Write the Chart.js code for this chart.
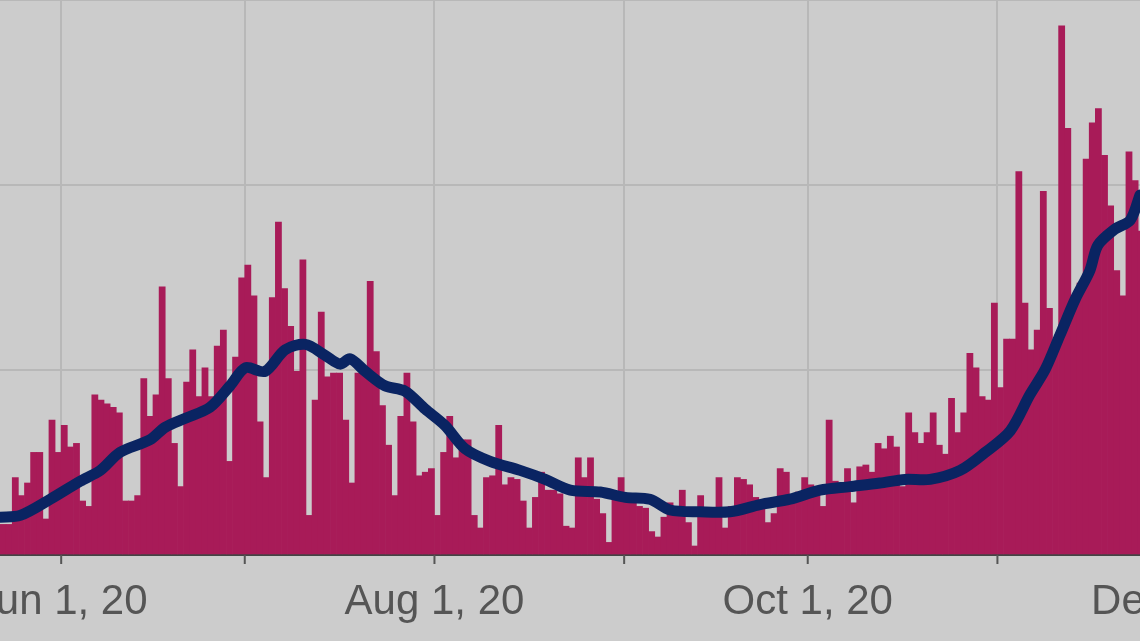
<!DOCTYPE html>
<html><head><meta charset="utf-8">
<script src="https://cdn.jsdelivr.net/npm/chart.js@4"></script>
<style>html,body{margin:0;padding:0;overflow:hidden;background:#cccccc}canvas{display:block}</style>
</head><body>
<canvas id="c" width="1140" height="641"></canvas>
<script>
// Day offsets relative to Jun 1, 2020
const firstBarDay = -9.5;
const dailyCases = [
17,17,43,33,40,57,57,20,75,57,72,60,62,30,27,89,86,84,82,79,30,30,33,98,77,89,149,98,62,38,96,114,88,104,88,116,125,52,110,154,161,144,74,43,143,185,148,
127,102,164,22,86,135,99,101,101,75,40,101,101,152,113,83,61,33,77,101,74,44,46,48,22,57,77,54,64,64,22,15,43,44,72,39,43,42,30,15,32,46,36,36,34,16,15,54,
43,54,31,23,7,32,43,34,34,27,26,13,10,21,29,25,36,18,5,33,26,26,43,15,27,43,42,39,32,28,18,23,48,46,33,35,43,39,33,27,75,41,35,48,29,
49,50,46,62,59,66,60,38,79,68,62,68,79,61,56,87,68,79,112,104,88,86,140,93,120,120,213,140,114,125,202,137,118,294,237,143,151,220,240,248,222,194,158,144,224,208,180,130
];
const avgDays = [-10,-6.7,-1.8,3.1,6.4,9.6,14.5,17,20.3,24.3,27.6,30.1,33.3,36.6,39.9,43.1,45.6,47.2,49.7,52.9,56.2,59.5,62.7,66,70.1,75,79.1,83.2,88.1,92.2,96.2,99.5,104.4,109.3,114.2,119.1,124,128.9,133.8,137.9,142,146.9,151,155.1,158.3,160.8,163.2,165.7,168.1,169.4,172.2,174.7,176.3];
const avgValues = [21,22,31,41,47,57,64,71,76,82,94,104,102,114,117,111,106,109,102,94,91,81,72,59,52,47,42,36,35,32,31,25,24,24,28,31,36,38,40,42,42,47,57,69,89,103,122,142,158,172,181,186,200];
const tickDays = [0,30,61,92,122,153,183];
const tickLabels = {0:'Jun 1, 20',61:'Aug 1, 20',122:'Oct 1, 20',183:'Dec 1, 20'};

const barData = dailyCases.map((v,i)=>({x:firstBarDay+i,y:v}));
const lineData = avgDays.map((d,i)=>({x:d,y:avgValues[i]}));

const bg = {id:'bg',beforeDraw(c){const g=c.ctx;g.save();g.fillStyle='#cccccc';g.fillRect(0,0,c.width,c.height);g.restore();}};
const labels = {id:'labels',afterDraw(c){
  const s=c.scales.x,g=c.ctx,b=c.chartArea.bottom;
  g.save();g.font='42px "Liberation Sans", Arial, sans-serif';g.fillStyle='#555555';g.textAlign='center';g.textBaseline='middle';
  g.strokeStyle='#555555';g.lineWidth=2;
  tickDays.forEach(d=>{const px=s.getPixelForValue(d);
    g.beginPath();g.moveTo(px,b);g.lineTo(px,b+9);g.stroke();
    if(tickLabels[d]) g.fillText(tickLabels[d],px,602);});
  g.restore();}};

new Chart(document.getElementById('c'),{
  data:{datasets:[
    {type:'line',data:lineData,borderColor:'#0a2462',borderWidth:11,pointRadius:0,tension:0.3,borderCapStyle:'round',borderJoinStyle:'round',order:0},
    {type:'bar',data:barData,backgroundColor:'#a81b58',barPercentage:1,categoryPercentage:1,borderWidth:0,order:1}
  ]},
  options:{responsive:false,animation:false,
    layout:{padding:{left:0,right:0,top:0,bottom:86}},
    plugins:{legend:{display:false},tooltip:{enabled:false}},
    scales:{
      x:{type:'linear',min:-10,max:176.3,offset:false,
        afterBuildTicks(s){s.ticks=tickDays.filter(t=>t<=176.3).map(v=>({value:v}));},
        ticks:{display:false},
        grid:{color:'#b8b8b8',lineWidth:2,drawTicks:false,offset:false},
        border:{color:'#444444',width:2}},
      y:{min:0,max:308.3,ticks:{display:false,stepSize:100},
        grid:{color:'#b8b8b8',lineWidth:2,drawTicks:false},border:{display:false}}
    }
  },
  plugins:[bg,labels]
});
</script>
</body></html>
